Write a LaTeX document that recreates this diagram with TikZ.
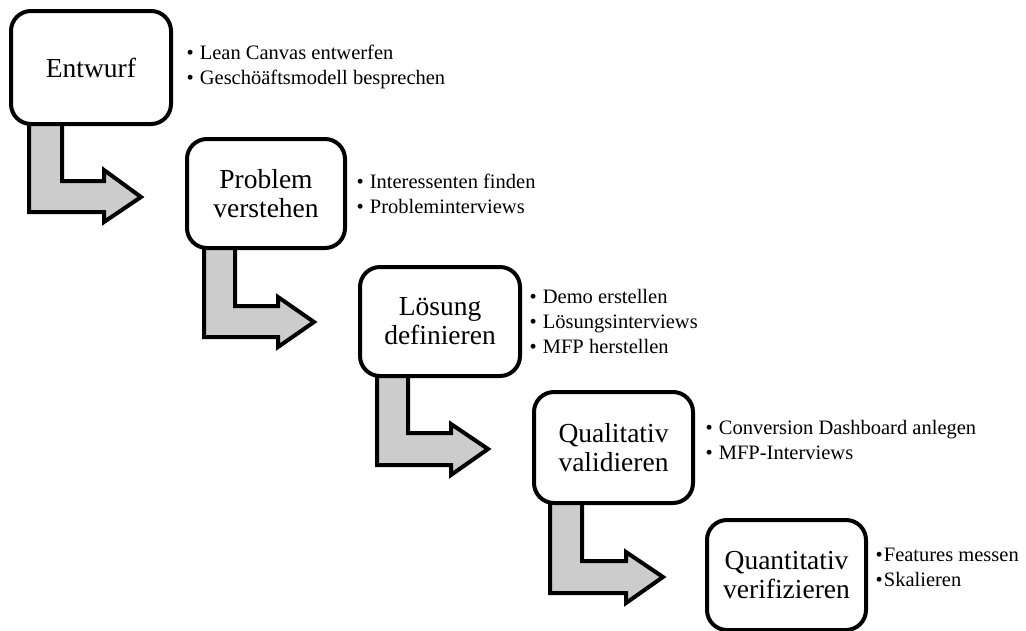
\documentclass[tikz,border=0pt]{standalone}
\usepackage{fontspec}
\setmainfont{Liberation Serif}
\definecolor{arrowfill}{RGB}{204,204,204}
\begin{document}
\begin{tikzpicture}[x=1pt,y=-1pt,
  stage/.style={draw, line width=4pt, rounded corners=20pt, fill=white, align=center,
    font=\fontsize{27.5}{29}\selectfont, inner sep=0pt},
  item/.style={anchor=base west, inner sep=0pt, font=\fontsize{20.5}{25}\selectfont},
  bent/.style={draw, fill=arrowfill, line width=4pt, line join=miter, miter limit=10}]
\clip (0,0) rectangle (1026,630);
\fill[white] (0,0) rectangle (1026,630);
% bent arrows (drawn first, boxes cover their tops)
\draw[bent] (29,118) -- (29,212) -- (104,212) -- (104,222) -- (141,197) -- (104,170) -- (104,181) -- (62,181) -- (62,118) -- cycle;
\draw[bent] (204,242) -- (204,337) -- (278,337) -- (278,347) -- (314,322) -- (278,297) -- (278,306) -- (235,306) -- (235,242) -- cycle;
\draw[bent] (377,370) -- (377,465) -- (451,465) -- (451,475) -- (488,449) -- (451,424) -- (451,433) -- (408,433) -- (408,370) -- cycle;
\draw[bent] (550,497) -- (550,593) -- (626,593) -- (626,603) -- (663,577) -- (626,552) -- (626,561) -- (582,561) -- (582,497) -- cycle;
% stage boxes
\node[stage, minimum width=160pt, minimum height=113pt] (b1) at (91,67.5) {Entwurf};
\node[stage, minimum width=158pt, minimum height=109pt] (b2) at (266,193.5) {Problem\\verstehen};
\node[stage, minimum width=160pt, minimum height=109pt] (b3) at (440,321.5) {Lösung\\definieren};
\node[stage, minimum width=159pt, minimum height=111pt] (b4) at (613.5,447.5) {Qualitativ\\validieren};
\node[stage, minimum width=159pt, minimum height=110pt] (b5) at (786.5,575) {Quantitativ\\verifizieren};
% bullet lists
\node[item] (t1a) at (186.5,59) {\textbullet\hspace{6pt}Lean Canvas entwerfen};
\node[item] (t1b) at (186.5,84) {\textbullet\hspace{6pt}Geschöäftsmodell besprechen};
\node[item] (t2a) at (356.5,188) {\textbullet\hspace{6pt}Interessenten finden};
\node[item] (t2b) at (356.5,213) {\textbullet\hspace{6pt}Probleminterviews};
\node[item] (t3a) at (529.5,303) {\textbullet\hspace{6pt}Demo erstellen};
\node[item] (t3b) at (529.5,328) {\textbullet\hspace{6pt}Lösungsinterviews};
\node[item] (t3c) at (529.5,353) {\textbullet\hspace{6pt}MFP herstellen};
\node[item] (t4a) at (705.5,434) {\textbullet\hspace{6pt}Conversion Dashboard anlegen};
\node[item] (t4b) at (705.5,459) {\textbullet\hspace{6pt}MFP-Interviews};
\node[item] (t5a) at (875.5,561) {\textbullet\hspace{1pt}Features messen};
\node[item] (t5b) at (875.5,586) {\textbullet\hspace{1pt}Skalieren};
\end{tikzpicture}
\end{document}
